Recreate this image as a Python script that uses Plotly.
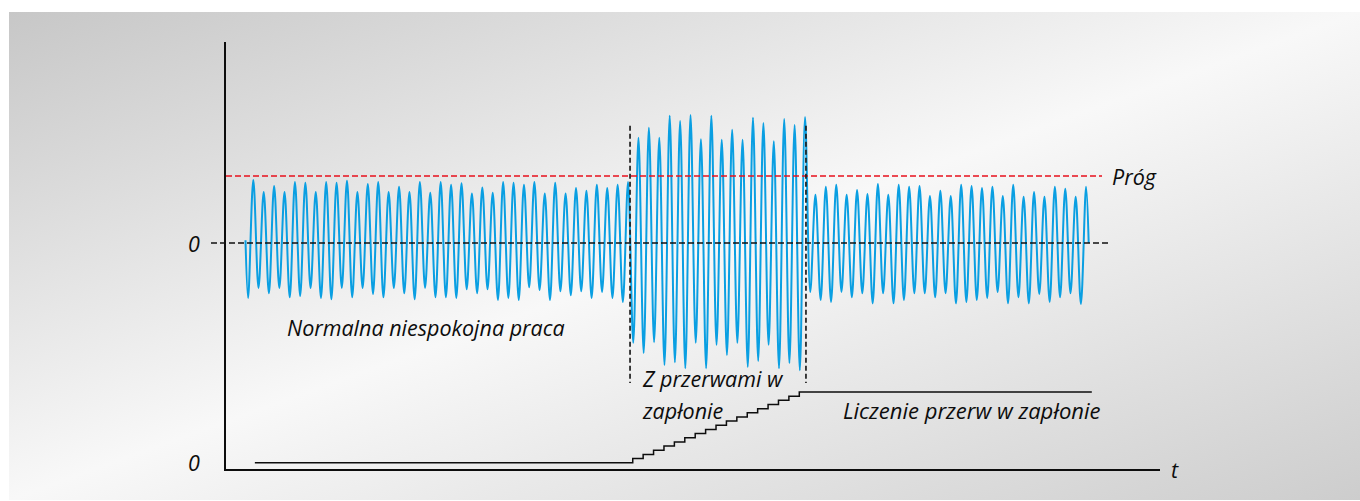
import base64
import plotly.graph_objects as go

# ---------------- data ----------------
# Signal amplitude in units where the threshold ("Próg") = 1.0
# Extremes per cycle: trough then peak, one cycle per time unit.
peaks_normal = [0.94, 0.76, 0.85, 0.76, 0.91, 0.90, 0.76, 0.91, 0.90, 0.93,
                0.76, 0.88, 0.91, 0.76, 0.84, 0.76, 0.91, 0.75, 0.91, 0.87,
                0.89, 0.74, 0.83, 0.75, 0.91, 0.90, 0.87, 0.91, 0.74, 0.90,
                0.74, 0.82, 0.78, 0.87, 0.82, 0.87, 0.91]
troughs_normal = [-0.82, -0.67, -0.75, -0.67, -0.81, -0.79, -0.67, -0.82, -0.84, -0.67,
                  -0.81, -0.67, -0.76, -0.81, -0.67, -0.75, -0.84, -0.67, -0.81, -0.81,
                  -0.82, -0.69, -0.75, -0.69, -0.85, -0.82, -0.85, -0.66, -0.70, -0.85,
                  -0.72, -0.78, -0.72, -0.82, -0.73, -0.82, -0.88]
peaks_misfire = [1.57, 1.72, 1.57, 1.90, 1.82, 1.91, 1.55, 1.90, 1.54, 1.69,
                 1.54, 1.87, 1.79, 1.52, 1.85, 1.76, 1.88]
troughs_misfire = [-1.49, -1.64, -1.48, -1.82, -1.78, -1.87, -1.49, -1.87, -1.52, -1.67,
                   -1.49, -1.85, -1.76, -1.52, -1.87, -1.79, -1.90]
peaks_after = [0.72, 0.84, 0.87, 0.72, 0.79, 0.73, 0.88, 0.72, 0.87, 0.84,
               0.85, 0.70, 0.78, 0.70, 0.87, 0.85, 0.82, 0.84, 0.70, 0.87,
               0.69, 0.76, 0.69, 0.84, 0.81, 0.69, 0.84]
troughs_after = [-0.73, -0.85, -0.88, -0.73, -0.81, -0.75, -0.90, -0.75, -0.90, -0.85,
                 -0.75, -0.75, -0.81, -0.75, -0.90, -0.88, -0.85, -0.82, -0.73, -0.90,
                 -0.81, -0.90, -0.76, -0.88, -0.81, -0.75, -0.91]
signal_start = 0.04
signal_end = 0.0
threshold = 1.0

# misfire window (time units) and its marker extent (signal units)
event_times = [36.94, 53.84]
event_top, event_bottom = 1.75, -2.09

# misfire counter (steps)
counter_times = [0.9, 37.2, 38.2, 39.2, 40.2, 41.2, 42.2, 43.2, 44.2, 45.2,
                 46.2, 47.2, 48.2, 49.2, 50.2, 51.2, 52.2, 53.2, 81.3]
counter_values = [0, 1, 2, 3, 4, 5, 6, 7, 8, 9,
                  10, 11, 12, 13, 14, 15, 16, 17, 17]

# labels
label_threshold = "Próg"
label_zero = "0"
label_time = "t"
label_normal = "Normalna niespokojna praca"
label_misfire_1 = "Z przerwami w"
label_misfire_2 = "zapłonie"
label_counting = "Liczenie przerw w zapłonie"

# ---------------- build signal ----------------
peaks = peaks_normal + peaks_misfire + peaks_after
troughs = troughs_normal + troughs_misfire + troughs_after
sig_t = [0.0]
sig_y = [signal_start]
for k, (tr, pk) in enumerate(zip(troughs, peaks)):
    sig_t += [k + 0.25, k + 0.75]
    sig_y += [tr, pk]
sig_t.append(float(len(peaks)))
sig_y.append(signal_end)

# ---------------- layout geometry ----------------
W, H = 1360, 501
ML, MR, MT, MB = 226, 200, 42, 32
PW, PH = W - ML - MR, H - MT - MB
X_RANGE = [-1.873, 87.85]
Y_RANGE = [-3.373, 3.0]
Y2_RANGE = [-1.515, 101.15]


def px_x(px):
    return (px - ML) / PW


def px_y(py):
    return (H - MB - py) / PH


BLUE = "#0a9fe2"
RED = "#e8101c"
INK = "#0d0d0d"
FONT = "Open Sans"
FS = 21.5

fig = go.Figure()

fig.add_trace(go.Scatter(x=sig_t, y=sig_y, mode="lines",
                         line=dict(color=BLUE, width=2, shape="spline", smoothing=1),
                         hoverinfo="skip"))

fig.add_trace(go.Scatter(x=[X_RANGE[0], 82.28], y=[threshold, threshold], mode="lines",
                         line=dict(color=RED, width=1.4, dash="6px,3px"),
                         hoverinfo="skip"))

for et in event_times:
    fig.add_trace(go.Scatter(x=[et, et], y=[event_top, event_bottom], mode="lines",
                             line=dict(color="#1e1e1e", width=1.7, dash="5px,3px"),
                             hoverinfo="skip"))

fig.add_trace(go.Scatter(x=counter_times, y=counter_values, mode="lines", yaxis="y2",
                         line=dict(color=INK, width=1.5, shape="hv"),
                         hoverinfo="skip"))

# zero reference line (extends slightly left of the axis)
fig.add_shape(type="line", xref="paper", yref="y",
              x0=px_x(211), x1=px_x(1108), y0=0, y1=0,
              line=dict(color="#111111", width=1.5, dash="6px,3px"), layer="above")

# background gradient panel
svg = ("<svg xmlns='http://www.w3.org/2000/svg' width='1351' height='488' "
       "viewBox='0 0 1351 488' preserveAspectRatio='none'>"
       "<defs><linearGradient id='g' x1='0' y1='0' x2='1' y2='1'>"
       "<stop offset='0' stop-color='#c7c7c7'/>"
       "<stop offset='0.5' stop-color='#f8f8f8'/>"
       "<stop offset='1' stop-color='#cdcdcd'/>"
       "</linearGradient></defs>"
       "<rect x='0' y='0' width='1351' height='488' fill='url(#g)'/></svg>")
svg_uri = "data:image/svg+xml;base64," + base64.b64encode(svg.encode()).decode()
fig.add_layout_image(dict(source=svg_uri, xref="paper", yref="paper",
                          x=px_x(9), y=px_y(12), sizex=1351 / PW, sizey=488 / PH,
                          xanchor="left", yanchor="top", sizing="stretch", layer="below"))


def label(text, x, y, xanchor="left", size=FS):
    fig.add_annotation(text=text, xref="paper", yref="paper", x=px_x(x), y=px_y(y),
                       xanchor=xanchor, yanchor="middle", showarrow=False,
                       font=dict(family=FONT, size=size, color=INK, style="italic"))


label(label_threshold, 1110, 176)
label(label_zero, 194, 243, xanchor="center")
label(label_zero, 194, 462, xanchor="center")
label(label_time, 1175, 469, xanchor="center")
label(label_normal, 285, 327)
label(label_misfire_1, 640, 378)
label(label_misfire_2, 640, 410)
label(label_counting, 841, 410, size=22)

fig.update_layout(
    width=W, height=H,
    margin=dict(l=ML, r=MR, t=MT, b=MB, pad=0),
    paper_bgcolor="white", plot_bgcolor="rgba(0,0,0,0)",
    showlegend=False,
    xaxis=dict(range=X_RANGE, showgrid=False, zeroline=False, showticklabels=False,
               ticks="", showline=True, linecolor=INK, linewidth=1.6, fixedrange=True),
    yaxis=dict(range=Y_RANGE, showgrid=False, zeroline=False, showticklabels=False,
               ticks="", showline=True, linecolor=INK, linewidth=1.6, fixedrange=True),
    yaxis2=dict(range=Y2_RANGE, overlaying="y", visible=False, showgrid=False,
                zeroline=False, fixedrange=True),
)

fig.write_html("out.html", config={"displayModeBar": False},
               post_script="document.body.style.margin='0';")
